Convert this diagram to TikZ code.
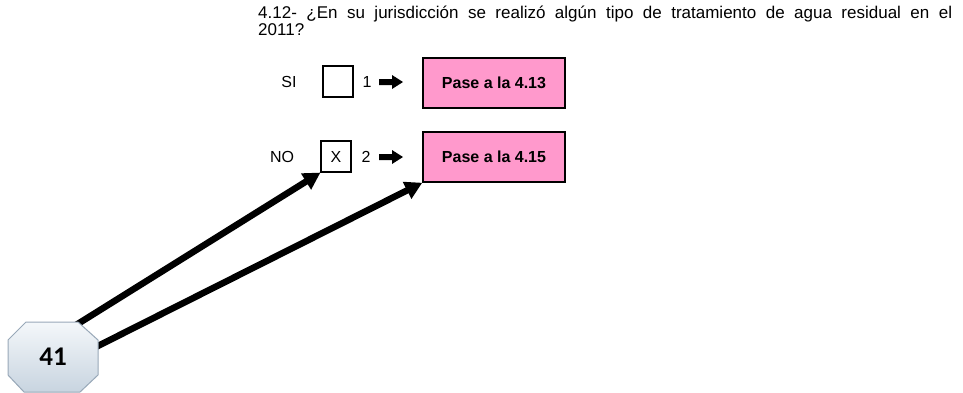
\documentclass[tikz,border=0pt]{standalone}
\usepackage{fontspec}
\setmainfont{Liberation Sans}
\newfontfamily\numfont{Carlito}
\usetikzlibrary{arrows.meta,shapes.geometric}
\definecolor{pinkfill}{HTML}{FF99CC}
\definecolor{octtop}{HTML}{F4F7FA}
\definecolor{octbot}{HTML}{C8D4E0}
\definecolor{octline}{HTML}{98A8B8}
\tikzset{
  lbl/.style={inner sep=0pt, font=\fontsize{16}{18}\selectfont},
  chk/.style={draw=black, line width=1.1pt, minimum width=30pt, minimum height=31pt, inner sep=0pt, font=\fontsize{16}{18}\selectfont},
  pasebox/.style={draw=black, line width=1.5pt, fill=pinkfill, minimum width=142pt, minimum height=50pt, inner sep=0pt, font=\bfseries\fontsize{16}{18}\selectfont},
  bigarrow/.style={line width=6.5pt, -{Triangle[length=17pt,width=18pt]}},
}
\begin{document}
\begin{tikzpicture}[x=1pt,y=-1pt]
\useasboundingbox (0,0) rectangle (963,392);
% title
\node[anchor=base west, inner sep=0pt, font=\fontsize{17}{19}\selectfont] (t1) at (258,18)
  {\makebox[694pt][s]{4.12- ¿En su jurisdicción se realizó algún tipo de tratamiento de agua residual en el}};
\node[anchor=base west, inner sep=0pt, font=\fontsize{17}{19}\selectfont] (t2) at (258,35) {2011?};
% SI row
\node[lbl] (si) at (289,82) {SI};
\node[chk] (boxsi) at (338,81.5) {};
\node[lbl] (one) at (367,82) {1};
\fill (379,79) -- (392,79) -- (392,75) -- (403,82) -- (392,89) -- (392,85) -- (379,85) -- cycle;
\node[pasebox] (p1) at (494,83) {Pase a la 4.13};
% NO row
\node[lbl] (no) at (282,157) {NO};
\node[chk] (boxno) at (336,156.5) {X};
\node[lbl] (two) at (366,157) {2};
\fill (379,154) -- (392,154) -- (392,150) -- (403,157) -- (392,164) -- (392,160) -- (379,160) -- cycle;
\node[pasebox] (p2) at (494,157) {Pase a la 4.15};
% connectors
\coordinate (s1) at (60,335);
\coordinate (s2) at (80,355);
\draw[bigarrow] (s1) -- (boxno.south west);
\draw[bigarrow] (s2) -- (p2.south west);
% octagon
\path[top color=octtop, bottom color=octbot, draw=octline, line width=1pt]
  (26,322) -- (78,322) -- (98,340) -- (98,375) -- (80,392) -- (24,392) -- (8,375) -- (8,340) -- cycle;
\node[inner sep=0pt, font=\numfont\bfseries\fontsize{27}{29}\selectfont] (num) at (53,357) {41};
\end{tikzpicture}
\end{document}
